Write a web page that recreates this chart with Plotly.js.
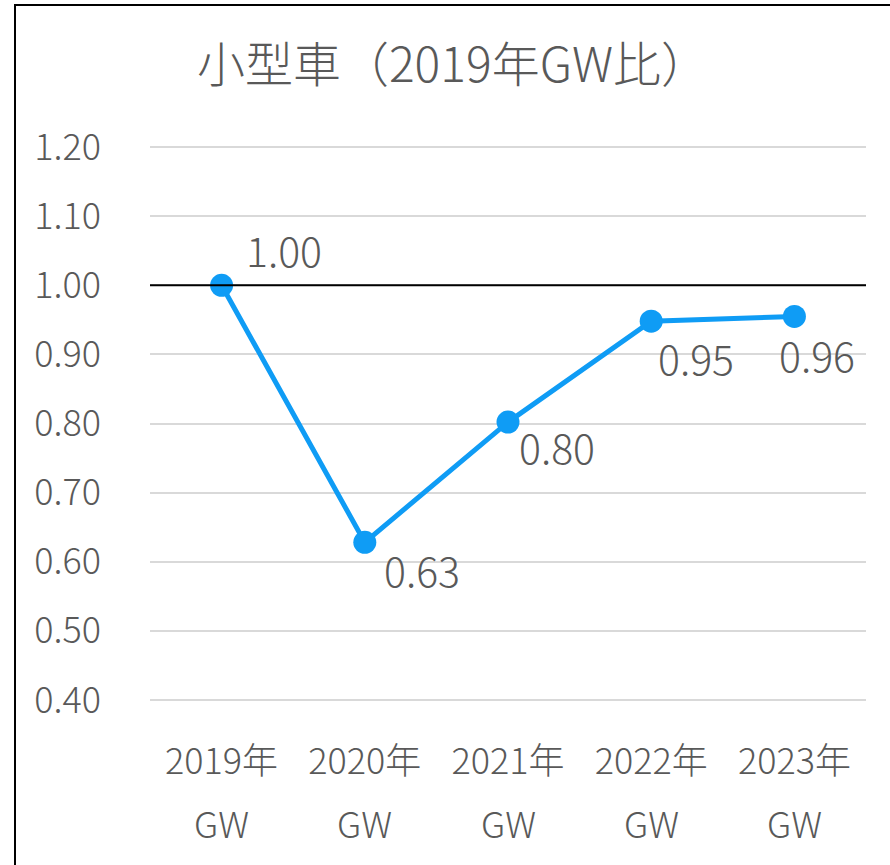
<!DOCTYPE html>
<html>
<head>
<meta charset="utf-8">
<script src="https://cdn.plot.ly/plotly-3.0.1.min.js"></script>
<style>
  body { margin: 0; background: #fff; }
  #chart { width: 890px; height: 865px; }
  #frame { position: absolute; left: 14px; top: 4px; width: 900px; height: 900px;
    border-left: 2px solid #000; border-top: 2px solid #000; pointer-events: none; }
</style>
</head>
<body>
<div id="chart"></div>
<div id="frame"></div>
<script>
const years = ["2019年", "2020年", "2021年", "2022年", "2023年"];
const suffix = "GW";
const ratio = [1.0, 0.628, 0.802, 0.948, 0.955];
const labels = ["1.00", "0.63", "0.80", "0.95", "0.96"];
const yTicks = [0.4, 0.5, 0.6, 0.7, 0.8, 0.9, 1.0, 1.1, 1.2];
const baseline = 1.0;

// label offsets in px, from the marker
const labelShift = [[62, 36], [57, -27], [49, -24], [45, -36], [23, -38]];

const grey = "#595959";
const blue = "#0f9cf5";
const font = "'Noto Sans CJK JP', 'Noto Sans', sans-serif";

// black reference line at 1.00, on a hidden 0..1 x axis so it spans the plot
const refLine = {
	x: [0, 1],
	y: [baseline, baseline],
	xaxis: "x2",
	mode: "lines",
	line: { color: "#000", width: 2 },
	hoverinfo: "skip",
};

const trace = {
	x: years,
	y: ratio,
	mode: "lines+markers",
	line: { color: blue, width: 5 },
	marker: { color: blue, size: 23 },
	cliponaxis: false,
	hoverinfo: "skip",
};

const valueNotes = labels.map((t, i) => ({
	x: years[i],
	y: ratio[i],
	xref: "x",
	yref: "y",
	text: t,
	showarrow: false,
	xanchor: "center",
	yanchor: "middle",
	xshift: labelShift[i][0],
	yshift: labelShift[i][1],
	font: { family: font, size: 41, color: grey, weight: 300 },
}));

const gwNotes = years.map((yr) => ({
	x: yr,
	xref: "x",
	y: -0.215,
	yref: "paper",
	yanchor: "middle",
	text: suffix,
	showarrow: false,
	font: { family: font, size: 36, color: grey, weight: 300 },
}));

const layout = {
	width: 890,
	height: 865,
	margin: { l: 150, r: 24, t: 145, b: 163 },
	paper_bgcolor: "#fff",
	plot_bgcolor: "#fff",
	showlegend: false,
	font: { family: font, color: grey },
	title: {
		text: "小型車（2019年GW比）",
		font: { family: font, size: 48, color: grey, weight: 300 },
		x: 0.509,
		xref: "container",
		xanchor: "center",
		y: 0.925,
		yanchor: "middle",
	},
	xaxis: {
		type: "category",
		range: [-0.5, 4.5],
		tickvals: years,
		ticktext: years,
		tickfont: { family: font, size: 36, color: grey, weight: 300 },
		showgrid: false,
		showline: false,
		ticks: "",
		ticklabelstandoff: 35,
	},
	xaxis2: {
		overlaying: "x",
		range: [0, 1],
		visible: false,
	},
	yaxis: {
		range: [0.397, 1.203],
		tickvals: yTicks,
		ticktext: yTicks.map((v) => v.toFixed(2)),
		tickfont: { family: font, size: 36, color: grey, weight: 300 },
		showgrid: true,
		gridcolor: "#d9d9d9",
		gridwidth: 2,
		zeroline: false,
		showline: false,
		ticks: "",
		ticklabelstandoff: 48,
	},
	annotations: valueNotes.concat(gwNotes),
};

Plotly.newPlot("chart", [refLine, trace], layout, { displayModeBar: false, staticPlot: true });
</script>
</body>
</html>
